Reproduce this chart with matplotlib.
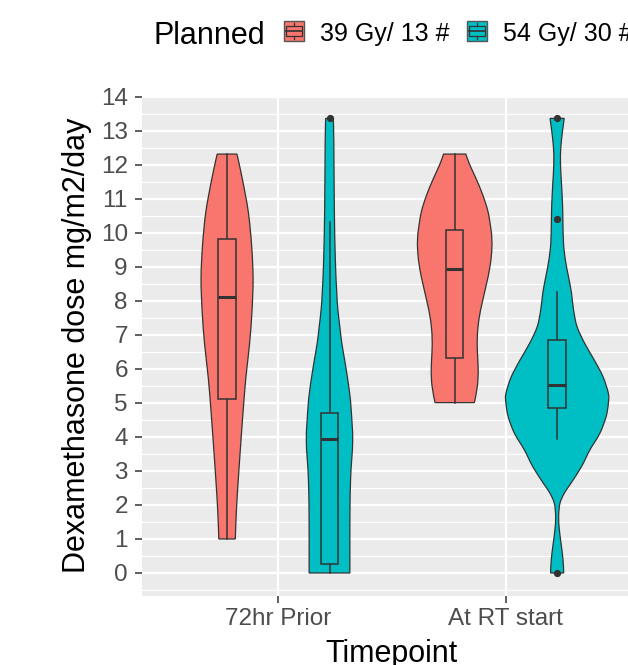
import matplotlib
matplotlib.use("Agg")
import matplotlib.pyplot as plt
from matplotlib.patches import Rectangle, PathPatch
from matplotlib.path import Path
import numpy as np

plt.rcParams['font.family'] = ['Liberation Sans', 'DejaVu Sans']

# ---------------- data ----------------
categories = ["72hr Prior", "At RT start"]
groups = ["39 Gy/ 13 #", "54 Gy/ 30 #"]
group_colors = ["#F8766D", "#00BFC4"]

# violin density profiles (value, relative density)
v_prior_39_y = [12.32, 11.61, 10.63, 9.65, 8.67, 7.69, 6.71, 5.73, 4.75, 3.77, 2.78, 1.80, 1.00]
v_prior_39_d = [9.8, 15.0, 21.0, 24.3, 25.8, 24.7, 22.2, 18.6, 15.9, 13.5, 11.2, 9.2, 8.2]

v_prior_54_y = [13.37, 12.64, 10.68, 9.20, 8.24, 7.75, 7.25, 6.76, 6.27, 5.77, 5.28, 4.80, 3.90, 2.83, 1.85, 0.87, 0.00]
v_prior_54_d = [3.8, 4.3, 4.8, 5.8, 7.2, 8.3, 10.2, 12.2, 15.0, 17.7, 20.0, 21.5, 23.0, 21.0, 20.3, 20.2, 20.2]

v_rt_39_y = [12.32, 12.00, 11.61, 11.12, 10.63, 10.14, 9.84, 9.45, 8.96, 8.47, 7.98, 7.49, 7.00, 6.51, 6.00, 5.50, 5.01]
v_rt_39_d = [11.0, 15.0, 21.0, 27.8, 33.0, 35.8, 36.8, 36.7, 34.7, 31.3, 27.5, 24.2, 22.5, 22.5, 23.3, 22.5, 19.5]

v_rt_54_y = [13.37, 13.03, 12.54, 12.05, 11.46, 10.88, 10.38, 9.70, 9.20, 8.72, 8.24, 7.75, 7.25, 6.76, 6.27,
             5.77, 5.28, 4.99, 4.59, 4.10, 3.62, 3.13, 2.64, 2.35, 2.05, 1.66, 1.27, 0.89, 0.40, 0.00]
v_rt_54_d = [7.0, 5.5, 3.7, 3.3, 4.3, 5.3, 5.7, 6.3, 8.2, 11.2, 14.2, 16.2, 19.7, 27.2, 36.7,
             45.5, 50.8, 50.8, 48.5, 42.2, 32.5, 24.2, 13.7, 7.2, 2.8, 1.5, 2.2, 3.8, 5.8, 6.5]

# box statistics [ (72hr,39), (72hr,54), (RT,39), (RT,54) ]
box_whisker_lo = [1.00, 0.00, 5.01, 3.93]
box_q1 = [5.11, 0.26, 6.33, 4.85]
box_median = [8.13, 3.95, 8.95, 5.54]
box_q3 = [9.83, 4.70, 10.08, 6.86]
box_whisker_hi = [12.32, 10.31, 12.32, 8.26]
box_outliers = [[], [13.37], [], [13.37, 10.42, 0.00]]

profiles = [(v_prior_39_y, v_prior_39_d), (v_prior_54_y, v_prior_54_d),
            (v_rt_39_y, v_rt_39_d), (v_rt_54_y, v_rt_54_d)]


def smooth_side(pts):
    """Catmull-Rom curve through pts, as Bezier path pieces (verts, codes) without the start MOVETO."""
    pts = np.asarray(pts, float)
    ext = np.vstack([pts[0], pts, pts[-1]])
    verts, codes = [], []
    for k in range(1, len(ext) - 2):
        p0, p1, p2, p3 = ext[k - 1], ext[k], ext[k + 1], ext[k + 2]
        c1 = p1 + (p2 - p0) / 6.0
        c2 = p2 - (p3 - p1) / 6.0
        verts += [c1, c2, p2]
        codes += [Path.CURVE4] * 3
    return verts, codes


# ---------------- figure ----------------
W, H = 628, 665
fig = plt.figure(figsize=(W / 100, H / 100), dpi=100)
fig.patch.set_facecolor("white")

px_l, px_r, px_t, px_b = 141.7, 642.5, 95.6, 595.7
ax = fig.add_axes([px_l / W, 1 - px_b / H, (px_r - px_l) / W, (px_b - px_t) / H])
ax.set_facecolor("#EBEBEB")
ax.set_xlim(0.4, 2.6)
ax.set_ylim(-0.668, 14.04)
for s in ax.spines.values():
    s.set_visible(False)

ax.set_yticks(range(0, 15))
ax.set_yticks(np.arange(-0.5, 14.01, 1.0), minor=True)
ax.set_xticks([1, 2])
ax.set_xticklabels(categories)
ax.grid(which="major", color="white", linewidth=1.7)
ax.grid(which="minor", axis="y", color="white", linewidth=0.85)
ax.set_axisbelow(True)
ax.tick_params(which="major", length=5, width=1.1, color="#333333",
               labelcolor="#4D4D4D", labelsize=17.5)
ax.tick_params(which="minor", length=0)
ax.tick_params(axis="y", pad=5)
ax.tick_params(axis="x", pad=4)

dodge = 0.225
max_density = max(max(d) for _, d in profiles)
half_width_max = 0.225
box_half = 0.0385

for i, (ys, ds) in enumerate(profiles):
    cat = i // 2
    g = i % 2
    xc = (cat + 1) + (-dodge if g == 0 else dodge)
    ys = np.asarray(ys)
    hw = np.asarray(ds) / max_density * half_width_max
    right = np.column_stack([xc + hw, ys])
    left = np.column_stack([xc - hw[::-1], ys[::-1]])
    verts = [right[0]]
    codes = [Path.MOVETO]
    v, c = smooth_side(right)
    verts += v
    codes += c
    verts.append(left[0])
    codes.append(Path.LINETO)
    v, c = smooth_side(left)
    verts += v
    codes += c
    verts.append(right[0])
    codes.append(Path.CLOSEPOLY)
    ax.add_patch(PathPatch(Path(verts, codes), facecolor=group_colors[g],
                           edgecolor="#333333", linewidth=0.9, zorder=3))

for i in range(4):
    cat = i // 2
    g = i % 2
    xc = (cat + 1) + (-dodge if g == 0 else dodge)
    ax.plot([xc, xc], [box_whisker_lo[i], box_q1[i]], color="#333333", lw=1.1, zorder=4)
    ax.plot([xc, xc], [box_q3[i], box_whisker_hi[i]], color="#333333", lw=1.1, zorder=4)
    ax.add_patch(Rectangle((xc - box_half, box_q1[i]), 2 * box_half, box_q3[i] - box_q1[i],
                           facecolor=group_colors[g], edgecolor="#333333", lw=1.1, zorder=4))
    ax.plot([xc - box_half, xc + box_half], [box_median[i]] * 2, color="#333333",
            lw=2.2, solid_capstyle="butt", zorder=5)
    if box_outliers[i]:
        ax.plot([xc] * len(box_outliers[i]), box_outliers[i], "o", color="#333333",
                markersize=4.2, zorder=6, clip_on=False)

# axis titles
fig.text(392 / W, 1 - 662 / H, "Timepoint", ha="center", va="baseline", fontsize=22, color="black")
fig.text(77 / W, 1 - 345.5 / H, "Dexamethasone dose mg/m2/day", ha="center", va="center",
         rotation=90, fontsize=22, color="black")

# legend (overlay in pixel coordinates)
lax = fig.add_axes([0, 0, 1, 1], facecolor="none")
lax.set_xlim(0, W)
lax.set_ylim(H, 0)
lax.axis("off")
lax.text(153, 43.5, "Planned", ha="left", va="baseline", fontsize=22, color="black")
key_x = [283.5, 466.5]
lab_x = [320, 502.7]
ks = 20.5
ky = 20.8
for g in range(2):
    x0 = key_x[g]
    lax.add_patch(Rectangle((x0, ky), ks, ks, facecolor=group_colors[g],
                            edgecolor="#555555", lw=1.0))
    xm = x0 + ks / 2
    lax.plot([xm, xm], [ky + 0.1 * ks, ky + 0.25 * ks], color="#333333", lw=0.9)
    lax.plot([xm, xm], [ky + 0.75 * ks, ky + 0.9 * ks], color="#333333", lw=0.9)
    lax.add_patch(Rectangle((x0 + 0.1 * ks, ky + 0.25 * ks), 0.8 * ks, 0.5 * ks,
                            facecolor=group_colors[g], edgecolor="#333333", lw=0.9))
    lax.plot([x0 + 0.1 * ks, x0 + 0.9 * ks], [ky + 0.5 * ks] * 2, color="#333333", lw=1.2)
    lax.text(lab_x[g], 40.5, groups[g], ha="left", va="baseline", fontsize=18, color="black")

fig.savefig("out.png", dpi=100)
